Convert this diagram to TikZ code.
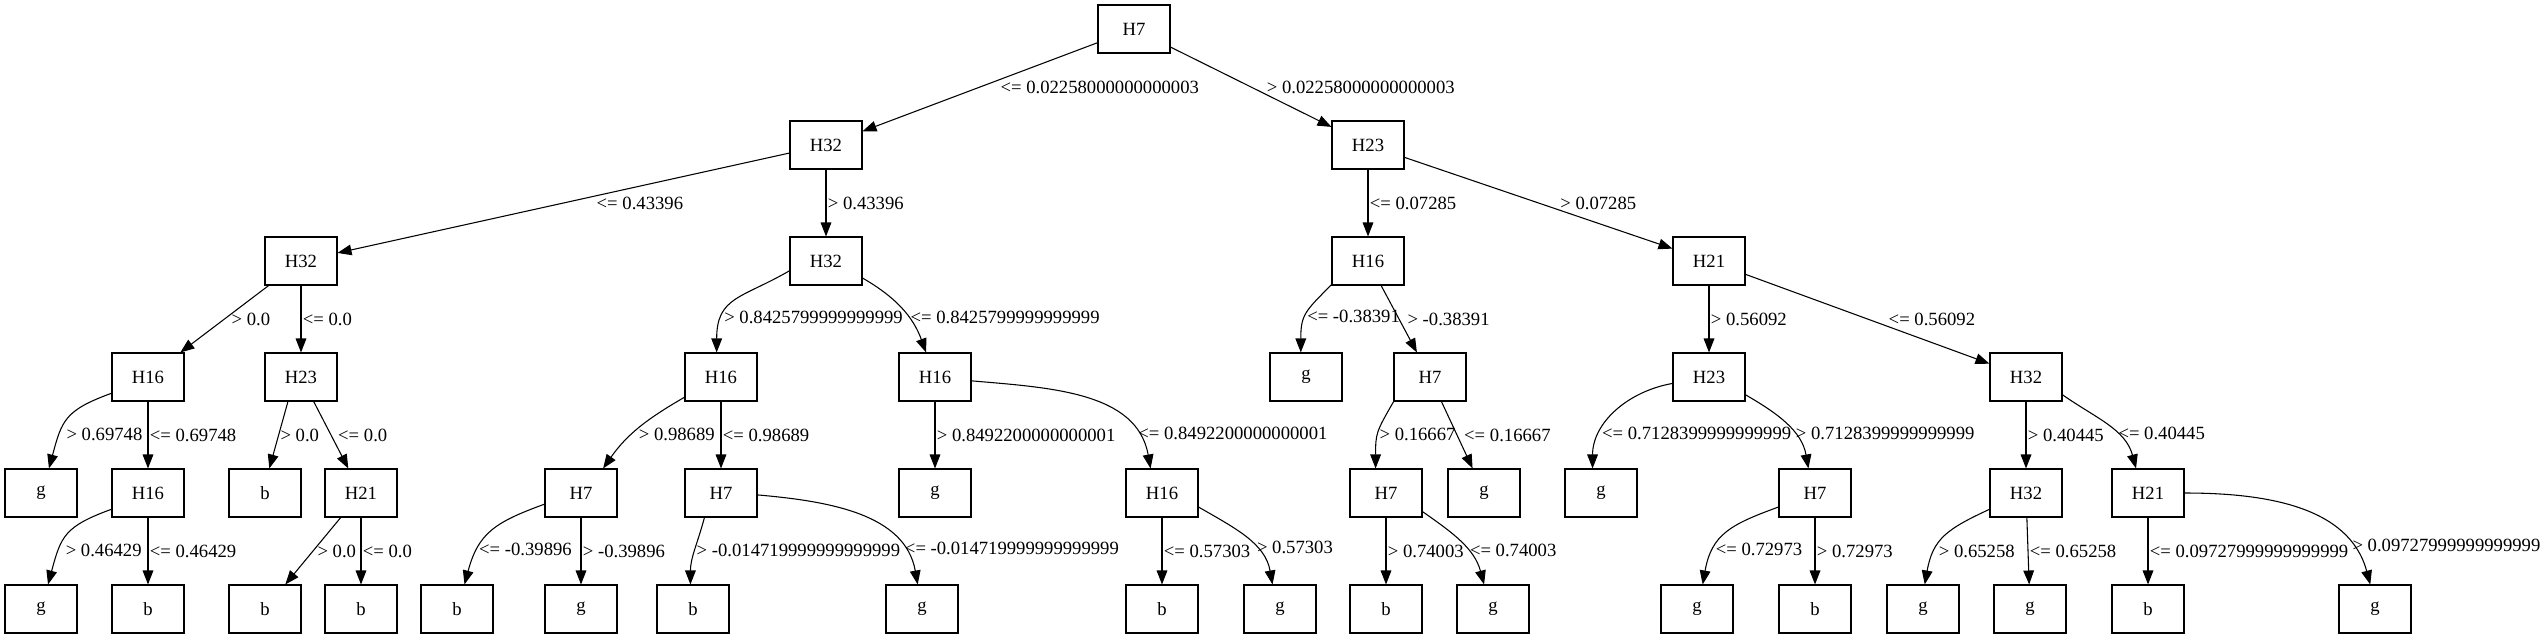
\documentclass[tikz,border=0pt]{standalone}
\usepackage{fontspec}
\setmainfont{Liberation Serif}
\usetikzlibrary{arrows.meta}

\begin{document}
\begin{tikzpicture}[x=0.75pt, y=0.75pt, font=\fontsize{14}{17}\selectfont,
	split_node/.style={rectangle,draw,line width=0.8pt,minimum width=54pt,minimum height=36pt,inner sep=0pt},
	cut_label/.style={anchor=west,inner sep=1pt},
	every edge/.style={draw,line width=0.8pt,-{Triangle[length=10.5pt,width=8pt]}}]

	\useasboundingbox (0,0) rectangle (2544,-639);

	\node[split_node] (1) at (1134, -29) {H7};

	\node[split_node] (2) at (826, -145) {H32};
	\node[split_node] (3) at (1368, -145) {H23};

	\node[split_node] (4) at (301, -261) {H32};
	\node[split_node] (5) at (826, -261) {H32};
	\node[split_node] (6) at (1368, -261) {H16};
	\node[split_node] (7) at (1709, -261) {H21};

	\node[split_node] (8) at (148, -377) {H16};
	\node[split_node] (9) at (301, -377) {H23};
	\node[split_node] (10) at (721, -377) {H16};
	\node[split_node] (11) at (935, -377) {H16};
	\node[split_node] (12) at (1306, -377) {g};
	\node[split_node] (13) at (1430, -377) {H7};
	\node[split_node] (14) at (1709, -377) {H23};
	\node[split_node] (15) at (2026, -377) {H32};

	\node[split_node] (16) at (41, -493) {g};
	\node[split_node] (17) at (148, -493) {H16};
	\node[split_node] (18) at (265, -493) {b};
	\node[split_node] (19) at (361, -493) {H21};
	\node[split_node] (20) at (581, -493) {H7};
	\node[split_node] (21) at (721, -493) {H7};
	\node[split_node] (22) at (935, -493) {g};
	\node[split_node] (23) at (1162, -493) {H16};
	\node[split_node] (24) at (1386, -493) {H7};
	\node[split_node] (25) at (1484, -493) {g};
	\node[split_node] (26) at (1601, -493) {g};
	\node[split_node] (27) at (1815, -493) {H7};
	\node[split_node] (28) at (2026, -493) {H32};
	\node[split_node] (29) at (2148, -493) {H21};

	\node[split_node] (30) at (41, -609) {g};
	\node[split_node] (31) at (148, -609) {b};
	\node[split_node] (32) at (265, -609) {b};
	\node[split_node] (33) at (361, -609) {b};
	\node[split_node] (34) at (457, -609) {b};
	\node[split_node] (35) at (581, -609) {g};
	\node[split_node] (36) at (693, -609) {b};
	\node[split_node] (37) at (922, -609) {g};
	\node[split_node] (38) at (1162, -609) {b};
	\node[split_node] (39) at (1280, -609) {g};
	\node[split_node] (40) at (1386, -609) {b};
	\node[split_node] (41) at (1493, -609) {g};
	\node[split_node] (42) at (1697, -609) {g};
	\node[split_node] (43) at (1815, -609) {b};
	\node[split_node] (44) at (1923, -609) {g};
	\node[split_node] (45) at (2030, -609) {g};
	\node[split_node] (46) at (2148, -609) {b};
	\node[split_node] (47) at (2375, -609) {g};

	\path[every node/.style={cut_label}]
	(1) edge node[pos=0.5, xshift=14pt] {<= 0.02258000000000003} (2)
	(1) edge node[pos=0.5, xshift=10.5pt] {> 0.02258000000000003} (3)
	(2) edge node[pos=0.5, xshift=23.5pt] {<= 0.43396} (4)
	(2) edge node[pos=0.5] {> 0.43396} (5)
	(3) edge node[pos=0.5] {<= 0.07285} (6)
	(3) edge node[pos=0.5, xshift=15pt] {> 0.07285} (7)
	(4) edge node[pos=0.5, xshift=4pt] {> 0.0} (8)
	(4) edge node[pos=0.5] {<= 0.0} (9)
	(5.-165) edge[out=210, in=90, looseness=1.3] node[pos=0.72] {> 0.8425799999999999} (10.100)
	(5.-25) edge[out=-30, in=110] node[pos=0.62] {<= 0.8425799999999999} (11.110)
	(6.-147) edge[out=225, in=90, looseness=1.3] node[pos=0.53] {<= -0.38391} (12.102)
	(6) edge node[pos=0.5, xshift=5pt] {> -0.38391} (13)
	(7) edge node[pos=0.5] {> 0.56092} (14)
	(7) edge node[pos=0.5, xshift=14.5pt] {<= 0.56092} (15)
	(8.-156) edge[out=200, in=75, looseness=1.3] node[pos=0.7, xshift=4pt] {> 0.69748} (16.72)
	(8) edge node[pos=0.5] {<= 0.69748} (17)
	(9.-118) edge node[pos=0.5] {> 0.0} (18.80)
	(9) edge node[pos=0.5, xshift=4pt] {<= 0.0} (19)
	(10.-151) edge[out=210, in=55] node[pos=0.6, xshift=4pt] {> 0.98689} (20.48)
	(10) edge node[pos=0.5] {<= 0.98689} (21)
	(11) edge node[pos=0.5] {> 0.8492200000000001} (22)
	(11.-6) edge[out=-5, in=100] node[pos=0.82] {<= 0.8492200000000001} (23.115)
	(13.-146) edge[out=240, in=90, looseness=1.3] node[pos=0.52] {> 0.16667} (24.113)
	(13) edge node[pos=0.5, xshift=4pt] {<= 0.16667} (25)
	(14.-170) edge[out=190, in=90] node[pos=0.72] {<= 0.7128399999999999} (26.109)
	(14.-26) edge[out=-30, in=100] node[pos=0.62] {> 0.7128399999999999} (27.105)
	(15) edge node[pos=0.5] {> 0.40445} (28)
	(15.-26) edge[out=-35, in=105] node[pos=0.62] {<= 0.40445} (29.116)
	(17.-156) edge[out=200, in=75, looseness=1.3] node[pos=0.7, xshift=4pt] {> 0.46429} (30.74)
	(17) edge node[pos=0.5] {<= 0.46429} (31)
	(19) edge node[pos=0.5, xshift=2pt] {> 0.0} (32)
	(19) edge node[pos=0.5] {<= 0.0} (33)
	(20.-163) edge[out=200, in=75, looseness=1.2] node[pos=0.72] {<= -0.39896} (34.73)
	(20) edge node[pos=0.5] {> -0.39896} (35)
	(21.-124) edge[out=-105, in=90] node[pos=0.5] {> -0.014719999999999999} (36.96)
	(21.-3) edge[out=-5, in=100] node[pos=0.8] {<= -0.014719999999999999} (37.100)
	(23) edge node[pos=0.5] {<= 0.57303} (38)
	(23.-21) edge[out=-30, in=100] node[pos=0.62] {> 0.57303} (39.107)
	(24) edge node[pos=0.5] {> 0.74003} (40)
	(24.-27) edge[out=-35, in=105] node[pos=0.62] {<= 0.74003} (41.110)
	(27.-159) edge[out=200, in=80, looseness=1.2] node[pos=0.7] {<= 0.72973} (42.77)
	(27) edge node[pos=0.5] {> 0.72973} (43)
	(28.-156) edge[out=205, in=80, looseness=1.2] node[pos=0.7, xshift=2pt] {> 0.65258} (44.86)
	(28) edge node[pos=0.5] {<= 0.65258} (45)
	(29) edge node[pos=0.5] {<= 0.09727999999999999} (46)
	(29.0) edge[out=0, in=105] node[pos=0.8] {> 0.09727999999999999} (47.101);
\end{tikzpicture}
\end{document}
